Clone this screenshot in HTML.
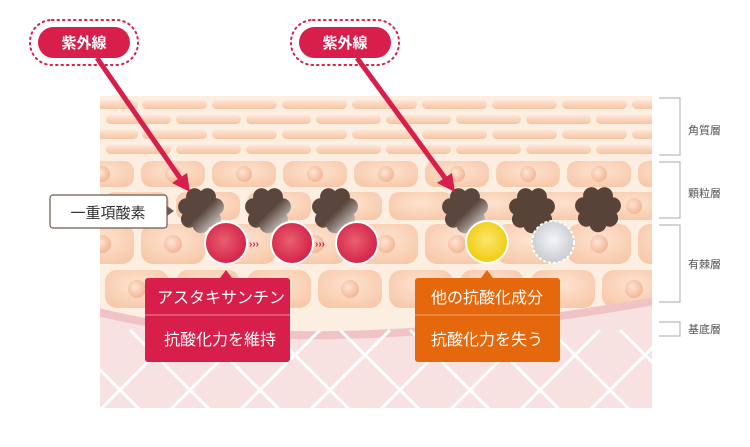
<!DOCTYPE html>
<html><head><meta charset="utf-8"><style>
html,body{margin:0;padding:0;background:#fff;width:750px;height:447px;overflow:hidden}
text{font-family:"Liberation Sans","Noto Sans CJK JP",sans-serif}
</style></head><body>
<svg width="750" height="447" viewBox="0 0 750 447" xmlns="http://www.w3.org/2000/svg">
<defs>
<linearGradient id="pill" x1="0" y1="0" x2="0" y2="1"><stop offset="0" stop-color="#fde6d6"/><stop offset="1" stop-color="#f6c3a2"/></linearGradient>
<radialGradient id="cell" cx="0.5" cy="0.4" r="0.7"><stop offset="0" stop-color="#fde3d0"/><stop offset="1" stop-color="#f7c6a6"/></radialGradient>
<radialGradient id="nuc" cx="0.4" cy="0.4" r="0.6"><stop offset="0" stop-color="#fde5d5"/><stop offset="1" stop-color="#f4b795"/></radialGradient>
<radialGradient id="red" cx="0.45" cy="0.45" r="0.6"><stop offset="0" stop-color="#e86070"/><stop offset="1" stop-color="#d21c44"/></radialGradient>
<radialGradient id="yel" cx="0.5" cy="0.45" r="0.6"><stop offset="0" stop-color="#fbe770"/><stop offset="1" stop-color="#f0c800"/></radialGradient>
<radialGradient id="gry" cx="0.5" cy="0.45" r="0.6"><stop offset="0" stop-color="#f4f5f7"/><stop offset="1" stop-color="#c3c6cb"/></radialGradient>
<linearGradient id="blobg" x1="0.2" y1="0.2" x2="1" y2="1"><stop offset="0.4" stop-color="#5a463c"/><stop offset="1" stop-color="#ffffff"/></linearGradient>
<path id="blob" transform="scale(1.35)" d="M0 -14 A6.3 6.3 0 0 1 10.95 -8.73 A6.3 6.3 0 0 1 13.65 3.12 A6.3 6.3 0 0 1 6.07 12.61 A6.3 6.3 0 0 1 -6.07 12.61 A6.3 6.3 0 0 1 -13.65 3.12 A6.3 6.3 0 0 1 -10.95 -8.73 A6.3 6.3 0 0 1 0 -14 Z"/>
<clipPath id="skin"><rect x="100" y="96" width="552" height="312"/></clipPath>
</defs>
<g clip-path="url(#skin)">
<rect x="100" y="96" width="552" height="312" fill="#fdeee2"/>
<g fill="url(#pill)">
<rect x="80" y="100" width="58" height="9" rx="4.5"/><rect x="142" y="100" width="65" height="9" rx="4.5"/><rect x="212" y="100" width="65" height="9" rx="4.5"/><rect x="282" y="100" width="65" height="9" rx="4.5"/><rect x="352" y="100" width="65" height="9" rx="4.5"/><rect x="422" y="100" width="65" height="9" rx="4.5"/><rect x="492" y="100" width="65" height="9" rx="4.5"/><rect x="562" y="100" width="65" height="9" rx="4.5"/><rect x="632" y="100" width="65" height="9" rx="4.5"/>
<rect x="106" y="115" width="65" height="9" rx="4.5"/><rect x="176" y="115" width="65" height="9" rx="4.5"/><rect x="246" y="115" width="65" height="9" rx="4.5"/><rect x="316" y="115" width="65" height="9" rx="4.5"/><rect x="386" y="115" width="65" height="9" rx="4.5"/><rect x="456" y="115" width="65" height="9" rx="4.5"/><rect x="526" y="115" width="65" height="9" rx="4.5"/><rect x="596" y="115" width="65" height="9" rx="4.5"/>
<rect x="80" y="130" width="58" height="9" rx="4.5"/><rect x="142" y="130" width="65" height="9" rx="4.5"/><rect x="212" y="130" width="65" height="9" rx="4.5"/><rect x="282" y="130" width="65" height="9" rx="4.5"/><rect x="352" y="130" width="65" height="9" rx="4.5"/><rect x="422" y="130" width="65" height="9" rx="4.5"/><rect x="492" y="130" width="65" height="9" rx="4.5"/><rect x="562" y="130" width="65" height="9" rx="4.5"/><rect x="632" y="130" width="65" height="9" rx="4.5"/>
<rect x="106" y="145" width="65" height="9" rx="4.5"/><rect x="176" y="145" width="65" height="9" rx="4.5"/><rect x="246" y="145" width="65" height="9" rx="4.5"/><rect x="316" y="145" width="65" height="9" rx="4.5"/><rect x="386" y="145" width="65" height="9" rx="4.5"/><rect x="456" y="145" width="65" height="9" rx="4.5"/><rect x="526" y="145" width="65" height="9" rx="4.5"/><rect x="596" y="145" width="65" height="9" rx="4.5"/>
</g>
<g fill="url(#cell)">
<rect x="70" y="161" width="64" height="26" rx="10"/><rect x="141" y="161" width="64" height="26" rx="10"/><rect x="212" y="161" width="64" height="26" rx="10"/><rect x="283" y="161" width="64" height="26" rx="10"/><rect x="354" y="161" width="64" height="26" rx="10"/><rect x="425" y="161" width="64" height="26" rx="10"/><rect x="496" y="161" width="64" height="26" rx="10"/><rect x="567" y="161" width="64" height="26" rx="10"/><rect x="638" y="161" width="64" height="26" rx="10"/>
<rect x="105" y="192" width="64" height="28" rx="10"/><rect x="176" y="192" width="64" height="28" rx="10"/><rect x="247" y="192" width="64" height="28" rx="10"/><rect x="318" y="192" width="64" height="28" rx="10"/><rect x="389" y="192" width="64" height="28" rx="10"/><rect x="460" y="192" width="64" height="28" rx="10"/><rect x="531" y="192" width="64" height="28" rx="10"/><rect x="602" y="192" width="64" height="28" rx="10"/>
<rect x="70" y="224" width="64" height="40" rx="12"/><rect x="141" y="224" width="64" height="40" rx="12"/><rect x="212" y="224" width="64" height="40" rx="12"/><rect x="283" y="224" width="64" height="40" rx="12"/><rect x="354" y="224" width="64" height="40" rx="12"/><rect x="425" y="224" width="64" height="40" rx="12"/><rect x="496" y="224" width="64" height="40" rx="12"/><rect x="567" y="224" width="64" height="40" rx="12"/><rect x="638" y="224" width="64" height="40" rx="12"/>
<rect x="105" y="270" width="64" height="38" rx="12"/><rect x="176" y="270" width="64" height="38" rx="12"/><rect x="247" y="270" width="64" height="38" rx="12"/><rect x="318" y="270" width="64" height="38" rx="12"/><rect x="389" y="270" width="64" height="38" rx="12"/><rect x="460" y="270" width="64" height="38" rx="12"/><rect x="531" y="270" width="64" height="38" rx="12"/><rect x="602" y="270" width="64" height="38" rx="12"/>
</g>
<g fill="url(#nuc)">
<circle cx="102" cy="174" r="8"/><circle cx="173" cy="174" r="8"/><circle cx="244" cy="174" r="8"/><circle cx="315" cy="174" r="8"/><circle cx="386" cy="174" r="8"/><circle cx="457" cy="174" r="8"/><circle cx="528" cy="174" r="8"/><circle cx="599" cy="174" r="8"/>
<circle cx="137" cy="206" r="8"/><circle cx="350" cy="206" r="8"/><circle cx="634" cy="206" r="8"/>
<circle cx="102" cy="244" r="9"/><circle cx="173" cy="244" r="9"/><circle cx="315" cy="244" r="9"/><circle cx="386" cy="244" r="9"/><circle cx="457" cy="244" r="9"/><circle cx="599" cy="244" r="9"/>
<circle cx="137" cy="289" r="9"/><circle cx="350" cy="289" r="9"/><circle cx="634" cy="289" r="9"/>
</g>
<path d="M90 310 Q 300 365 660 300 L660 410 L90 410 Z" fill="#f8e1e1"/>
<path d="M90 310 Q 300 365 660 300" fill="none" stroke="#f0c4c6" stroke-width="8"/>
<g stroke="#fff" stroke-width="3" fill="none">
<path d="M60 330 L150 420 M130 330 L220 420 M200 330 L290 420 M270 330 L360 420 M340 330 L430 420 M410 330 L500 420 M480 330 L570 420 M550 330 L640 420 M620 330 L710 420"/>
<path d="M180 330 L90 420 M250 330 L160 420 M320 330 L230 420 M390 330 L300 420 M460 330 L370 420 M530 330 L440 420 M600 330 L510 420 M670 330 L580 420 M740 330 L650 420"/>
</g>
</g>
<g stroke="#bbb" stroke-width="1.2" fill="none">
<path d="M659 98 H680 V155 H659"/><path d="M659 162 H680 V218 H659"/><path d="M659 225 H680 V302 H659"/><path d="M659 322 H680 V336 H659"/>
</g>
<g font-size="11" fill="#555"><text x="688" y="134">角質層</text><text x="688" y="197">顆粒層</text><text x="688" y="268">有棘層</text><text x="688" y="333">基底層</text></g>
<g fill="url(#blobg)"><use href="#blob" x="201" y="210"/><use href="#blob" x="268" y="210"/><use href="#blob" x="335" y="210"/><use href="#blob" x="465" y="210"/></g>
<g fill="#574338"><use href="#blob" x="532" y="210"/><use href="#blob" x="598" y="209"/></g>
<g stroke="#d81e4a" stroke-width="5"><line x1="97" y1="58" x2="180" y2="178"/><line x1="357" y1="58" x2="445" y2="178"/></g>
<g fill="#d81e4a"><polygon points="190,192 172,183 187,173"/><polygon points="455,192 437,183 452,173"/></g>
<g fill="none" stroke="#d81e4a" stroke-width="2" stroke-dasharray="1.5 4" stroke-linecap="round"><rect x="30" y="20" width="108" height="45" rx="22"/><rect x="291" y="20" width="108" height="45" rx="22"/></g>
<g fill="#d81e4a"><rect x="38" y="27" width="92" height="31" rx="15.5"/><rect x="299" y="27" width="92" height="31" rx="15.5"/></g>
<g fill="#fff" font-size="15" font-weight="bold" text-anchor="middle"><text x="84" y="48">紫外線</text><text x="345" y="48">紫外線</text></g>
<rect x="50" y="195" width="117" height="33" rx="3" fill="#fff" stroke="#6b5a50" stroke-width="1.2"/>
<polygon points="167,206 174,211 167,216" fill="#6b5a50"/>
<text x="108" y="218" font-size="15" fill="#333" text-anchor="middle">一重項酸素</text>
<g stroke="#fff" stroke-width="2"><circle cx="226" cy="243" r="21" fill="url(#red)"/><circle cx="292" cy="243" r="21" fill="url(#red)"/><circle cx="357" cy="243" r="21" fill="url(#red)"/><circle cx="487" cy="242" r="21" fill="url(#yel)"/></g>
<circle cx="553" cy="242" r="21" fill="url(#gry)" stroke="#fff" stroke-width="2" stroke-dasharray="3 2"/>
<g fill="#d81e4a" font-size="10" font-weight="bold"><text x="249" y="247">›››</text><text x="315" y="247">›››</text></g>
<polygon points="220,278 226,270 232,278" fill="#d81e4a"/>
<rect x="145" y="278" width="145" height="84" rx="3" fill="#d81e4a"/>
<line x1="145" y1="315" x2="290" y2="315" stroke="#ee8899" stroke-width="1"/>
<polygon points="481,278 487,270 493,278" fill="#e5680c"/>
<rect x="415" y="278" width="145" height="84" rx="3" fill="#e5680c"/>
<line x1="415" y1="315" x2="560" y2="315" stroke="#f3a36a" stroke-width="1"/>
<g fill="#fff" font-size="16" text-anchor="middle">
<text x="221" y="303">アスタキサンチン</text><text x="220" y="345">抗酸化力を維持</text>
<text x="487" y="303">他の抗酸化成分</text><text x="487" y="345">抗酸化力を失う</text>
</g>
</svg>
</body></html>
